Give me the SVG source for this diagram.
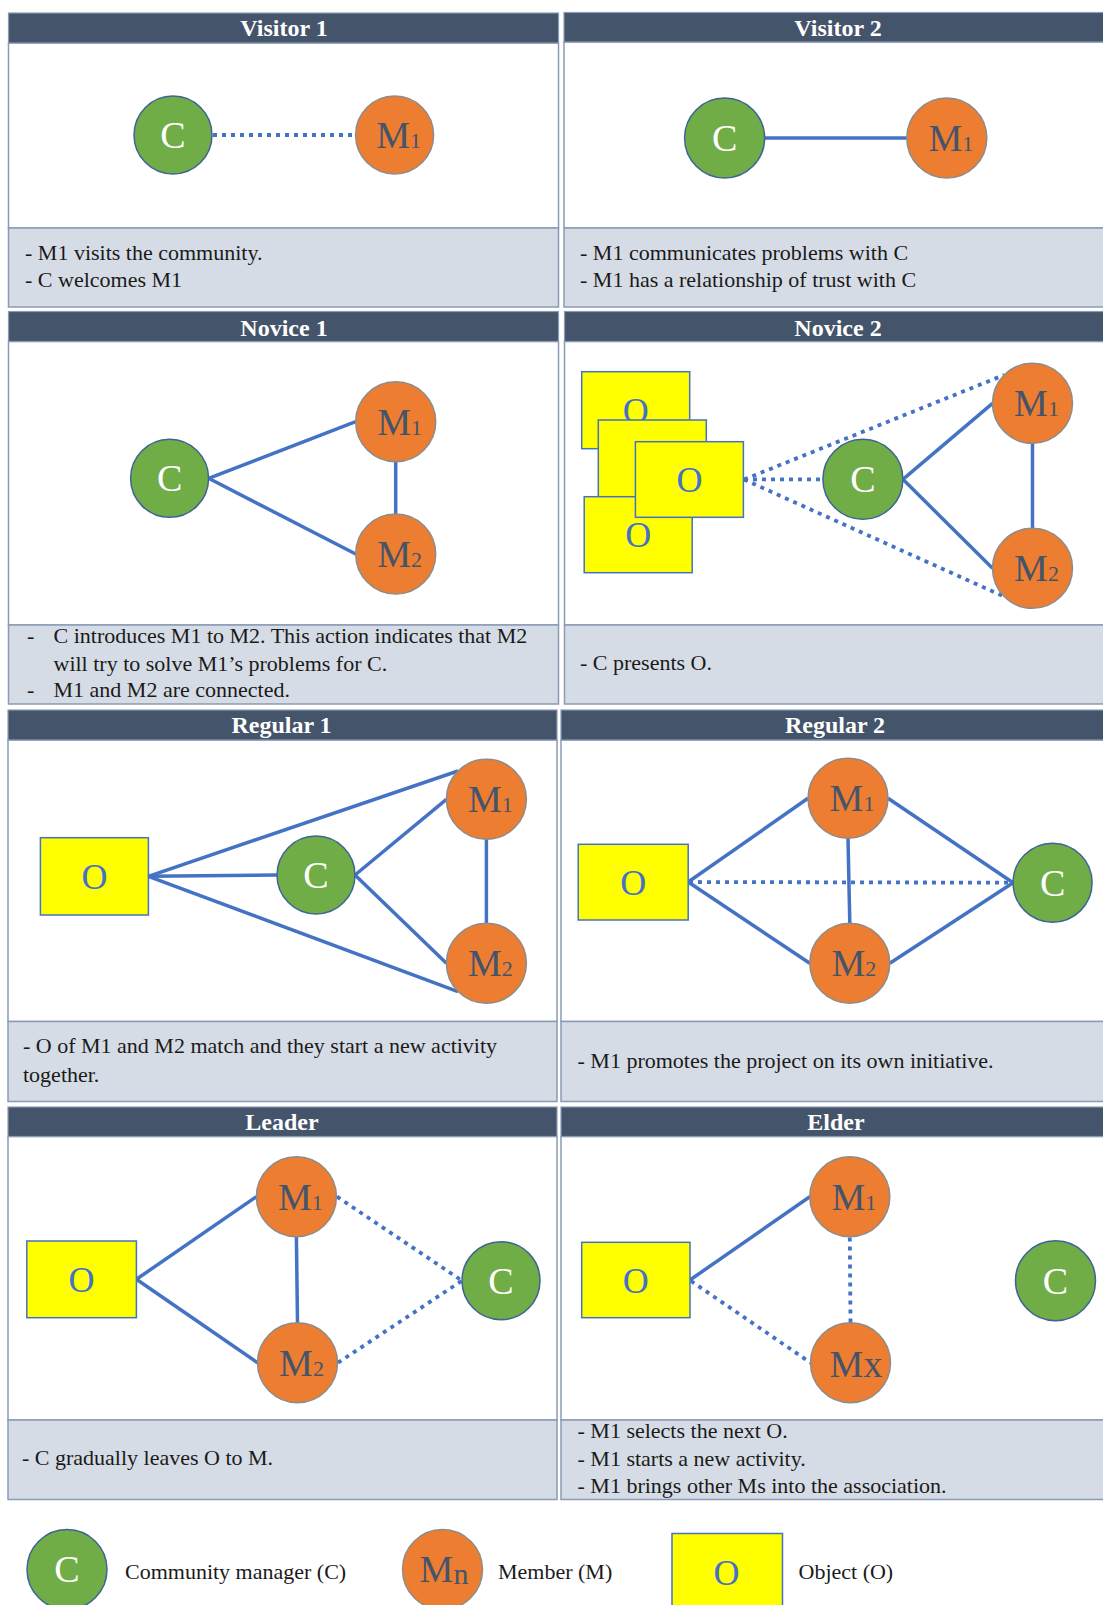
<svg xmlns="http://www.w3.org/2000/svg" width="1103" height="1605" viewBox="0 0 1103 1605">
<style>
  .hdr{fill:#44546a;stroke:#8a9bb5;stroke-width:1.2}
  .body{fill:#ffffff;stroke:#8a9bb5;stroke-width:1.5}
  .desc{fill:#d6dce5;stroke:#8a9bb5;stroke-width:1.5}
  .ht{font-family:"Liberation Serif","Times New Roman",serif;font-weight:bold;font-size:24px;fill:#ffffff;text-anchor:middle}
  .dt{font-family:"Liberation Serif","Times New Roman",serif;font-size:22px;fill:#1a1a1a}
  .cn{fill:#70ad47;stroke:#3f6396;stroke-width:1.5}
  .mn{fill:#ed7d31;stroke:#8c8c8c;stroke-width:1.5}
  .on{fill:#ffff00;stroke:#4472c4;stroke-width:1.5}
  .ct{font-family:"Liberation Serif","Times New Roman",serif;font-size:38px;fill:#ffffff;text-anchor:middle}
  .mt{font-family:"Liberation Serif","Times New Roman",serif;font-size:38px;fill:#44546a;text-anchor:middle}
  .sub{font-size:22px}
  .ot{font-family:"Liberation Serif","Times New Roman",serif;font-size:36px;fill:#4472c4;text-anchor:middle}
  .lt{font-family:"Liberation Serif","Times New Roman",serif;font-size:22px;fill:#1a1a1a}
  .solid{stroke:#4472c4;stroke-width:3.5;fill:none}
  .dot{stroke:#4472c4;stroke-width:3.8;stroke-dasharray:4 5;fill:none}
</style>
<rect width="1103" height="1605" fill="#ffffff"/>

<!-- Panels -->
<g id="panel-visitor1">
  <rect class="body" x="8.5" y="43" width="550" height="185"/>
  <rect class="desc" x="8.5" y="228" width="550" height="79"/>
  <rect class="hdr" x="8.5" y="13" width="550" height="30"/>
  <text class="ht" x="284" y="36">Visitor 1</text>
  <text class="dt" x="25" y="260">- M1 visits the community.</text>
  <text class="dt" x="25" y="287">- C welcomes M1</text>
</g>
<g id="panel-visitor2">
  <rect class="body" x="564" y="42" width="546" height="186"/>
  <rect class="desc" x="564" y="228" width="546" height="79"/>
  <rect class="hdr" x="564" y="12.5" width="546" height="29.5"/>
  <text class="ht" x="838" y="35.5">Visitor 2</text>
  <text class="dt" x="580" y="260">- M1 communicates problems with C</text>
  <text class="dt" x="580" y="287">- M1 has a relationship of trust with C</text>
</g>
<g id="panel-novice1">
  <rect class="body" x="8.5" y="341.5" width="550" height="283.5"/>
  <rect class="desc" x="8.5" y="625" width="550" height="79"/>
  <rect class="hdr" x="8.5" y="311.5" width="550" height="30"/>
  <text class="ht" x="284" y="336">Novice 1</text>
  <text class="dt" x="27" y="643">-</text>
  <text class="dt" x="53.5" y="643">C introduces M1 to M2. This action indicates that M2</text>
  <text class="dt" x="53.5" y="670.5">will try to solve M1’s problems for C.</text>
  <text class="dt" x="27" y="697">-</text>
  <text class="dt" x="53.5" y="697">M1 and M2 are connected.</text>
</g>
<g id="panel-novice2">
  <rect class="body" x="564.5" y="341.5" width="546" height="283.5"/>
  <rect class="desc" x="564.5" y="625" width="546" height="79"/>
  <rect class="hdr" x="564.5" y="311.5" width="546" height="30"/>
  <text class="ht" x="838" y="336">Novice 2</text>
  <text class="dt" x="580" y="670">- C presents O.</text>
</g>
<g id="panel-regular1">
  <rect class="body" x="8" y="740" width="549" height="281.5"/>
  <rect class="desc" x="8" y="1021.5" width="549" height="80"/>
  <rect class="hdr" x="8" y="710" width="549" height="30"/>
  <text class="ht" x="281.5" y="733">Regular 1</text>
  <text class="dt" x="23" y="1053">- O of M1 and M2 match and they start a new activity</text>
  <text class="dt" x="23" y="1081.5">together.</text>
</g>
<g id="panel-regular2">
  <rect class="body" x="561" y="740" width="549" height="281.5"/>
  <rect class="desc" x="561" y="1021.5" width="549" height="80"/>
  <rect class="hdr" x="561" y="710" width="549" height="30"/>
  <text class="ht" x="835" y="733">Regular 2</text>
  <text class="dt" x="577.5" y="1068">- M1 promotes the project on its own initiative.</text>
</g>
<g id="panel-leader">
  <rect class="body" x="8" y="1136.5" width="549" height="283.5"/>
  <rect class="desc" x="8" y="1420" width="549" height="79.5"/>
  <rect class="hdr" x="8" y="1107" width="549" height="29.5"/>
  <text class="ht" x="282" y="1130">Leader</text>
  <text class="dt" x="22" y="1465">- C gradually leaves O to M.</text>
</g>
<g id="panel-elder">
  <rect class="body" x="561" y="1136.5" width="549" height="283.5"/>
  <rect class="desc" x="561" y="1420" width="549" height="79.5"/>
  <rect class="hdr" x="561" y="1107" width="549" height="29.5"/>
  <text class="ht" x="836" y="1130">Elder</text>
  <text class="dt" x="577.5" y="1438">- M1 selects the next O.</text>
  <text class="dt" x="577.5" y="1466">- M1 starts a new activity.</text>
  <text class="dt" x="577.5" y="1493">- M1 brings other Ms into the association.</text>
</g>

<!-- Connectors -->
<g id="connectors">
  <!-- Visitor 1 -->
  <line class="dot" x1="213" y1="135" x2="355.6" y2="135"/>
  <!-- Visitor 2 -->
  <line class="solid" x1="764.6" y1="138" x2="906.8" y2="138"/>
  <!-- Novice 1 -->
  <line class="solid" x1="208.6" y1="478.3" x2="355.7" y2="421.7"/>
  <line class="solid" x1="208.6" y1="478.3" x2="355.7" y2="554"/>
  <line class="solid" x1="395.7" y1="461.7" x2="395.7" y2="514"/>
  <!-- Novice 2 -->
  <line class="solid" x1="902.9" y1="479.3" x2="992.5" y2="403.3"/>
  <line class="solid" x1="902.9" y1="479.3" x2="992.5" y2="568.3"/>
  <line class="solid" x1="1032.5" y1="443.3" x2="1032.5" y2="528.3"/>
  <line class="dot" x1="744" y1="479.5" x2="822.9" y2="479.3"/>
  <line class="dot" x1="744" y1="479.5" x2="1004.2" y2="375"/>
  <line class="dot" x1="744" y1="479.5" x2="1004.2" y2="596.6"/>
  <!-- Regular 1 -->
  <line class="solid" x1="148.4" y1="876.3" x2="277" y2="875"/>
  <line class="solid" x1="148.4" y1="876.3" x2="458" y2="771"/>
  <line class="solid" x1="148.4" y1="876.3" x2="458" y2="991.6"/>
  <line class="solid" x1="355" y1="875" x2="446.4" y2="799.3"/>
  <line class="solid" x1="355" y1="875" x2="446.4" y2="963.3"/>
  <line class="solid" x1="486.4" y1="839.3" x2="486.4" y2="923.3"/>
  <!-- Regular 2 -->
  <line class="solid" x1="688.2" y1="882" x2="808" y2="798.3"/>
  <line class="solid" x1="688.2" y1="882" x2="809.8" y2="963.3"/>
  <line class="solid" x1="888" y1="798.3" x2="1013.1" y2="882.7"/>
  <line class="solid" x1="889.8" y1="963.3" x2="1013.1" y2="882.7"/>
  <line class="solid" x1="848" y1="838.3" x2="849.8" y2="923.3"/>
  <line class="dot" x1="689" y1="882" x2="1013.1" y2="882.7"/>
  <!-- Leader -->
  <line class="solid" x1="136.4" y1="1279.3" x2="256.4" y2="1196.7"/>
  <line class="solid" x1="136.4" y1="1279.3" x2="257.5" y2="1362.7"/>
  <line class="solid" x1="296.4" y1="1236.7" x2="297.5" y2="1322.7"/>
  <line class="dot" x1="337" y1="1196.7" x2="462" y2="1280.7"/>
  <line class="dot" x1="338" y1="1362.7" x2="462" y2="1280.7"/>
  <!-- Elder -->
  <line class="solid" x1="690" y1="1280" x2="809.8" y2="1196.7"/>
  <line class="dot" x1="691" y1="1281" x2="810.5" y2="1362.7"/>
  <line class="dot" x1="849.8" y1="1237.5" x2="850.5" y2="1322.7"/>
</g>

<!-- Nodes: Visitor 1 -->
<g id="v1-C"><circle class="cn" cx="173" cy="135" r="39"/><text class="ct" x="173" y="148">C</text></g>
<g id="v1-M1"><circle class="mn" cx="394.6" cy="135" r="39"/><text class="mt" x="398.6" y="148">M<tspan class="sub">1</tspan></text></g>
<!-- Visitor 2 -->
<g id="v2-C"><circle class="cn" cx="724.6" cy="138" r="40"/><text class="ct" x="724.6" y="151">C</text></g>
<g id="v2-M1"><circle class="mn" cx="946.8" cy="138" r="40"/><text class="mt" x="950.8" y="151">M<tspan class="sub">1</tspan></text></g>
<!-- Novice 1 -->
<g id="n1-C"><circle class="cn" cx="169.6" cy="478.3" r="39"/><text class="ct" x="169.6" y="491.3">C</text></g>
<g id="n1-M1"><circle class="mn" cx="395.7" cy="421.7" r="40"/><text class="mt" x="399.7" y="434.7">M<tspan class="sub">1</tspan></text></g>
<g id="n1-M2"><circle class="mn" cx="395.7" cy="554" r="40"/><text class="mt" x="399.7" y="567">M<tspan class="sub">2</tspan></text></g>
<!-- Novice 2 -->
<g id="n2-O1"><rect class="on" x="581.7" y="371.7" width="108" height="77"/><text class="ot" x="635.7" y="422.7">O</text></g>
<g id="n2-O2"><rect class="on" x="598.3" y="420" width="108" height="77"/></g>
<g id="n2-O4"><rect class="on" x="584.2" y="496.7" width="108" height="76"/><text class="ot" x="638.2" y="547.2">O</text></g>
<g id="n2-O3"><rect class="on" x="635.4" y="441.7" width="108" height="75.6"/><text class="ot" x="689.4" y="492">O</text></g>
<g id="n2-C"><circle class="cn" cx="862.9" cy="479.3" r="40"/><text class="ct" x="862.9" y="492.3">C</text></g>
<g id="n2-M1"><circle class="mn" cx="1032.5" cy="403.3" r="40"/><text class="mt" x="1036.5" y="416.3">M<tspan class="sub">1</tspan></text></g>
<g id="n2-M2"><circle class="mn" cx="1032.5" cy="568.3" r="40"/><text class="mt" x="1036.5" y="581.3">M<tspan class="sub">2</tspan></text></g>
<!-- Regular 1 -->
<g id="r1-O"><rect class="on" x="40.4" y="837.7" width="108" height="77.3"/><text class="ot" x="94.4" y="889">O</text></g>
<g id="r1-C"><circle class="cn" cx="316" cy="875" r="39"/><text class="ct" x="316" y="888">C</text></g>
<g id="r1-M1"><circle class="mn" cx="486.4" cy="799.3" r="40"/><text class="mt" x="490.4" y="812.3">M<tspan class="sub">1</tspan></text></g>
<g id="r1-M2"><circle class="mn" cx="486.4" cy="963.3" r="40"/><text class="mt" x="490.4" y="976.3">M<tspan class="sub">2</tspan></text></g>
<!-- Regular 2 -->
<g id="r2-O"><rect class="on" x="578.2" y="844.3" width="110" height="75.7"/><text class="ot" x="633.2" y="894.5">O</text></g>
<g id="r2-M1"><circle class="mn" cx="848" cy="798.3" r="40"/><text class="mt" x="852" y="811.3">M<tspan class="sub">1</tspan></text></g>
<g id="r2-M2"><circle class="mn" cx="849.8" cy="963.3" r="40"/><text class="mt" x="853.8" y="976.3">M<tspan class="sub">2</tspan></text></g>
<g id="r2-C"><circle class="cn" cx="1052.6" cy="882.7" r="39.5"/><text class="ct" x="1052.6" y="895.7">C</text></g>
<!-- Leader -->
<g id="l-O"><rect class="on" x="26.8" y="1241" width="109.6" height="76.7"/><text class="ot" x="81.6" y="1292">O</text></g>
<g id="l-M1"><circle class="mn" cx="296.4" cy="1196.7" r="40"/><text class="mt" x="300.4" y="1209.7">M<tspan class="sub">1</tspan></text></g>
<g id="l-M2"><circle class="mn" cx="297.5" cy="1362.7" r="40"/><text class="mt" x="301.5" y="1375.7">M<tspan class="sub">2</tspan></text></g>
<g id="l-C"><circle class="cn" cx="501" cy="1280.7" r="39"/><text class="ct" x="501" y="1293.7">C</text></g>
<!-- Elder -->
<g id="e-O"><rect class="on" x="581.7" y="1242.3" width="108.3" height="75.4"/><text class="ot" x="635.8" y="1292.5">O</text></g>
<g id="e-M1"><circle class="mn" cx="849.8" cy="1196.7" r="40"/><text class="mt" x="853.8" y="1209.7">M<tspan class="sub">1</tspan></text></g>
<g id="e-Mx"><circle class="mn" cx="850.5" cy="1362.7" r="40"/><text class="mt" x="856" y="1376.5" font-size="40">Mx</text></g>
<g id="e-C"><circle class="cn" cx="1055.5" cy="1280.7" r="40"/><text class="ct" x="1055.5" y="1293.7">C</text></g>

<!-- Legend -->
<g id="legend-C"><circle class="cn" cx="67" cy="1569.5" r="40"/><text class="ct" x="67" y="1581.5" font-size="40">C</text><text class="lt" x="125" y="1579">Community manager (C)</text></g>
<g id="legend-M"><circle class="mn" cx="442.5" cy="1569.5" r="40"/><text class="mt" x="444" y="1581.5" font-size="40">M<tspan font-size="30" dy="2">n</tspan></text><text class="lt" x="498" y="1579">Member (M)</text></g>
<g id="legend-O"><rect class="on" x="672" y="1533.5" width="110.5" height="80"/><text class="ot" x="726.5" y="1584.5">O</text><text class="lt" x="798.5" y="1579">Object (O)</text></g>
</svg>
